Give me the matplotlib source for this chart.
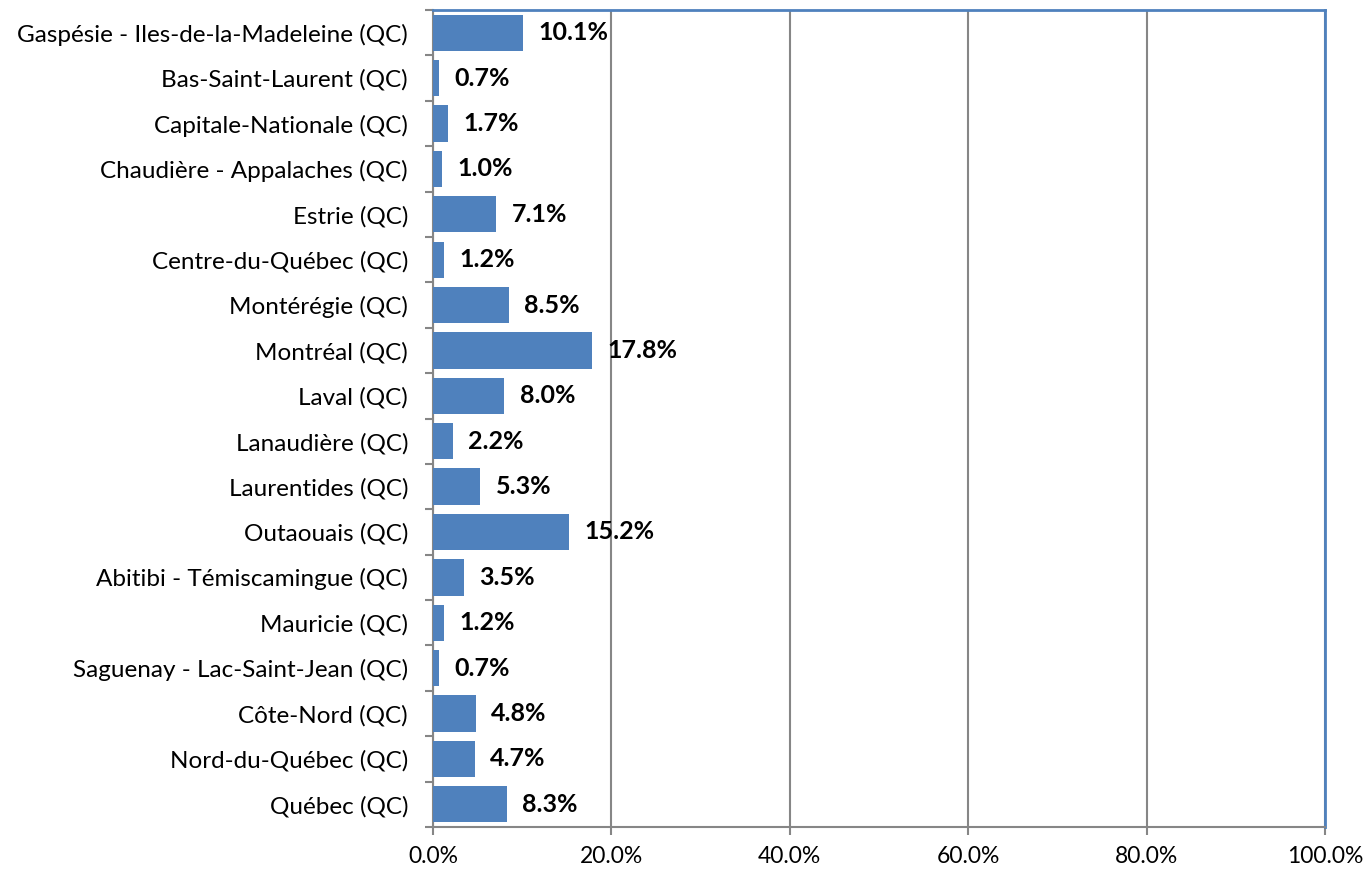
import matplotlib.pyplot as plt
import numpy as np
from matplotlib.ticker import FuncFormatter

regions = [
    "Gaspésie - Iles-de-la-Madeleine (QC)",
    "Bas-Saint-Laurent (QC)",
    "Capitale-Nationale (QC)",
    "Chaudière - Appalaches (QC)",
    "Estrie (QC)",
    "Centre-du-Québec (QC)",
    "Montérégie (QC)",
    "Montréal (QC)",
    "Laval (QC)",
    "Lanaudière (QC)",
    "Laurentides (QC)",
    "Outaouais (QC)",
    "Abitibi - Témiscamingue (QC)",
    "Mauricie (QC)",
    "Saguenay - Lac-Saint-Jean (QC)",
    "Côte-Nord (QC)",
    "Nord-du-Québec (QC)",
    "Québec (QC)",
]
shares = [10.1, 0.7, 1.7, 1.0, 7.1, 1.2, 8.5, 17.8, 8.0, 2.2, 5.3, 15.2, 3.5, 1.2, 0.7, 4.8, 4.7, 8.3]
x_ticks = [0, 20, 40, 60, 80, 100]

plt.rcParams['font.family'] = ['Lato', 'DejaVu Sans']

fig = plt.figure(figsize=(13.67, 8.73), dpi=100)
ax = fig.add_axes([0.3168, 0.0527, 0.6525, 0.9358])

y = np.arange(len(regions))
ax.barh(y, shares, height=0.8, color="#4F81BD", zorder=3)

# étiquettes de données
for yi, v in zip(y, shares):
    ax.annotate(f"{v:.1f}%", (v, yi), xytext=(11, 0), textcoords="offset points",
                va="center", ha="left", fontsize=18, fontweight="bold", color="black")

ax.set_xlim(0, 100)
ax.set_ylim(len(regions) - 0.5, -0.5)
ax.set_xticks(x_ticks)
ax.xaxis.set_major_formatter(FuncFormatter(lambda v, p: f"{v:.1f}%"))
ax.set_yticks(y)
ax.set_yticklabels(regions)
ax.set_yticks(np.arange(len(regions) + 1) - 0.5, minor=True)

ax.tick_params(axis="y", which="major", length=0, pad=18, labelsize=17.5)
ax.tick_params(axis="y", which="minor", length=6, width=1.5, color="#868686")
ax.tick_params(axis="x", which="major", length=6, width=1.5, color="#868686", labelsize=16.5, pad=8)

ax.grid(axis="x", color="#868686", linewidth=1.5, zorder=0)

for side in ["left", "bottom"]:
    ax.spines[side].set_color("#868686")
    ax.spines[side].set_linewidth(1.5)
for side in ["top", "right"]:
    ax.spines[side].set_color("#4F81BD")
    ax.spines[side].set_linewidth(2)

plt.savefig("out.png", dpi=100)
